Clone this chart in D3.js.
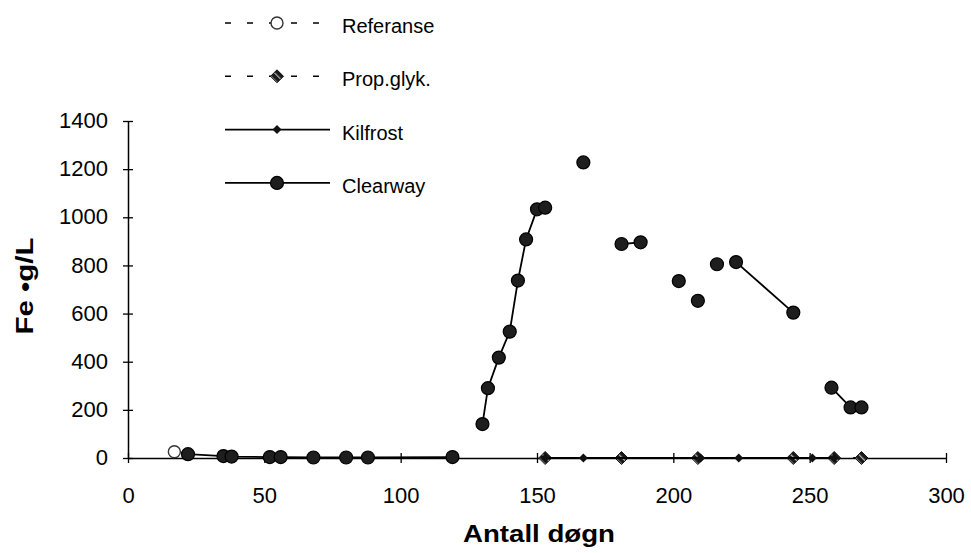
<!DOCTYPE html>
<html>
<head>
<meta charset="utf-8">
<script src="https://cdn.jsdelivr.net/npm/d3@7"></script>
<style>
  body { margin: 0; background: #fff; }
  text { font-family: "Liberation Sans", Arial, sans-serif; fill: #000; }
</style>
</head>
<body>
<div id="chart"></div>
<script>
// Fe i avrenning - antall døgn

// tick labels
const xTicks = [0, 50, 100, 150, 200, 250, 300];
const yTicks = [0, 200, 400, 600, 800, 1000, 1200, 1400];

// series (null = blank cell, breaks the line)
const refDays = [17];
const refValues = [26];

const propDays = [153, 181, 209, 244, 259, 269];
const propValues = [0, 0, 0, 0, 0, 0];

const kilDays = [153, 167, 210, 224, 251, 259];
const kilValues = [0, 0, 0, 0, 0, 0];

const clearDays = [22, 35, 38, 52, 56, 68, 80, 88, 119, 125, 130, 132, 136, 140, 143, 146, 150, 153,
  160, 167, 174, 181, 188, 195, 202, 206, 209, 212, 216, 220, 223, 244, 251, 258, 265, 269];
const clearValues = [16, 8, 6, 4, 4, 2, 2, 2, 4, null, 141, 290, 417, 525, 737, 908, 1033, 1040,
  null, 1228, null, 889, 896, null, 735, null, 653, null, 805, null, 814, 604, null, 292, 210, 210];

const seriesNames = ["Referanse", "Prop.glyk.", "Kilfrost", "Clearway"];

// dimensions
const margin = {top: 121, right: 25, bottom: 95, left: 128},
    width = 971 - margin.left - margin.right,
    height = 553 - margin.top - margin.bottom;

const svgRoot = d3.select("#chart")
  .append("svg")
    .attr("width", 971)
    .attr("height", 553);

// hatch pattern for Prop.glyk. marker
const defs = svgRoot.append("defs");
const pat = defs.append("pattern")
    .attr("id", "hatch")
    .attr("patternUnits", "userSpaceOnUse")
    .attr("width", 5)
    .attr("height", 5)
    .attr("patternTransform", "rotate(-45)");
pat.append("rect").attr("width", 5).attr("height", 5).attr("fill", "#1a1a1a");
pat.append("rect").attr("width", 1.2).attr("height", 5).attr("fill", "#bbb");

const svg = svgRoot.append("g")
    .attr("transform", `translate(${margin.left}, ${margin.top})`);

const x = d3.scaleLinear().domain([0, 300]).range([0, width]);
const y = d3.scaleLinear().domain([0, 1400]).range([height, 0]);

// X axis
const xAxis = svg.append("g")
  .attr("transform", `translate(0, ${height})`)
  .call(d3.axisBottom(x).tickValues(xTicks).tickFormat(d3.format("d")).tickSize(5).tickSizeOuter(0).tickPadding(0));
xAxis.select(".domain").attr("stroke-width", 1.5);
xAxis.selectAll(".tick line").attr("y1", -5).attr("y2", 5).attr("stroke-width", 1.3);
xAxis.selectAll(".tick text")
  .attr("y", 45).attr("dy", 0)
  .style("font-size", "22px");

// Y axis
const yAxis = svg.append("g")
  .call(d3.axisLeft(y).tickValues(yTicks).tickFormat(d3.format("d")).tickSize(5).tickSizeOuter(0));
yAxis.select(".domain").attr("stroke-width", 1.5);
yAxis.selectAll(".tick line").attr("x1", -5).attr("x2", 5).attr("stroke-width", 1.3);
yAxis.selectAll(".tick text")
  .attr("x", -20).attr("dy", "0.3em")
  .style("font-size", "22px");

// axis titles
svgRoot.append("text")
  .attr("x", 539).attr("y", 542)
  .attr("text-anchor", "middle")
  .attr("textLength", 152)
  .attr("lengthAdjust", "spacingAndGlyphs")
  .style("font-size", "23px").style("font-weight", "bold")
  .text("Antall døgn");

svgRoot.append("text")
  .attr("transform", "translate(33, 286) rotate(-90)")
  .attr("text-anchor", "middle")
  .attr("textLength", 97)
  .attr("lengthAdjust", "spacingAndGlyphs")
  .style("font-size", "24px").style("font-weight", "bold")
  .text("Fe •g/L");

// helpers
function toPoints(days, values) {
  return days.map((d, i) => ({day: d, value: values[i]}));
}

const line = d3.line()
  .defined(d => d.value !== null)
  .x(d => x(d.day))
  .y(d => y(d.value));

const diamond = function(r) {
  return `M0,${-r}L${r},0L0,${r}L${-r},0Z`;
};

// draw a series: line + markers
function drawSeries(points, dash, marker) {
  svg.append("path")
    .datum(points)
    .attr("fill", "none")
    .attr("stroke", "#000")
    .attr("stroke-width", 1.8)
    .attr("stroke-dasharray", dash)
    .attr("d", line);

  svg.selectAll(null)
    .data(points.filter(d => d.value !== null))
    .enter()
    .append("g")
      .attr("transform", d => `translate(${x(d.day)}, ${y(d.value)})`)
      .each(function() { marker(d3.select(this)); });
}

const markers = {
  "Referanse": g => g.append("circle").attr("r", 6).attr("fill", "#fff").attr("stroke", "#333").attr("stroke-width", 1.4),
  "Prop.glyk.": g => g.append("path").attr("d", diamond(6.5)).attr("fill", "url(#hatch)").attr("stroke", "#111").attr("stroke-width", 1),
  "Kilfrost": g => g.append("path").attr("d", diamond(4.5)).attr("fill", "#111"),
  "Clearway": g => g.append("circle").attr("r", 6.5).attr("fill", "#1e1e1e").attr("stroke", "#000").attr("stroke-width", 1.2)
};
const dashes = {
  "Referanse": "6,16",
  "Prop.glyk.": "6,16",
  "Kilfrost": null,
  "Clearway": null
};

drawSeries(toPoints(refDays, refValues), dashes["Referanse"], markers["Referanse"]);
drawSeries(toPoints(propDays, propValues), dashes["Prop.glyk."], markers["Prop.glyk."]);
drawSeries(toPoints(kilDays, kilValues), dashes["Kilfrost"], markers["Kilfrost"]);
drawSeries(toPoints(clearDays, clearValues), dashes["Clearway"], markers["Clearway"]);

// legend
const legend = svgRoot.append("g");
seriesNames.forEach(function(name, i) {
  const ly = 23 + i * 53.3;
  legend.append("line")
    .attr("x1", 225).attr("x2", 330)
    .attr("y1", ly).attr("y2", ly)
    .attr("stroke", "#000")
    .attr("stroke-width", 1.6)
    .attr("stroke-dasharray", dashes[name]);
  const m = legend.append("g").attr("transform", `translate(277, ${ly})`);
  markers[name](m);
  legend.append("text")
    .attr("x", 342).attr("y", ly + 10)
    .style("font-size", "20px")
    .text(name);
});
</script>
</body>
</html>
